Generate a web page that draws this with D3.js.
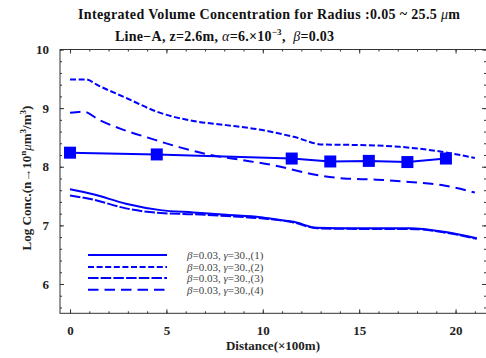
<!DOCTYPE html>
<html><head><meta charset="utf-8">
<script src="https://cdn.jsdelivr.net/npm/d3@7/dist/d3.min.js"></script>
<style>
html,body{margin:0;padding:0;background:#fff;}
svg{display:block;font-family:"Liberation Serif","Times New Roman",serif;}
</style></head>
<body><svg id="c" width="486" height="358"></svg>
<script>
// ---- data ----
const xTicks = [0, 5, 10, 15, 20];
const yTicks = [6, 7, 8, 9, 10];

const s2x = [0, 0.8, 1.5, 3, 4.5, 6.4, 8.1, 9.9, 11.6, 13.1, 15, 17.1, 19, 21];
const s2y = [9.49, 9.49, 9.38, 9.16, 8.94, 8.78, 8.71, 8.63, 8.51, 8.38, 8.37, 8.34, 8.27, 8.15];

const s4x = [0, 0.7, 1.5, 2.6, 4.2, 5.7, 7.3, 8.8, 10.5, 12.8, 14.2, 15.9, 17.6, 19.4, 21];
const s4y = [8.92, 8.94, 8.80, 8.65, 8.48, 8.33, 8.20, 8.12, 8.03, 7.86, 7.80, 7.78, 7.74, 7.68, 7.56];

const s1x = [0, 1.2, 2.9, 4.7, 6.4, 8.1, 9.9, 10.9, 11.6, 12.8, 15, 17.6, 19.4, 21.1];
const s1y = [7.615, 7.53, 7.37, 7.26, 7.22, 7.18, 7.14, 7.09, 7.06, 6.96, 6.95, 6.95, 6.89, 6.78];

const s3x = [0, 1.2, 2.9, 4.7, 6.4, 8.1, 9.9, 11.6, 12.8, 15, 17.6, 19.4, 21.1];
const s3y = [7.51, 7.44, 7.29, 7.21, 7.19, 7.16, 7.12, 7.05, 6.95, 6.94, 6.94, 6.88, 6.77];

const mx = [0, 4.5, 11.5, 13.5, 15.5, 17.5, 19.5];
const my = [8.24, 8.21, 8.14, 8.09, 8.10, 8.08, 8.14];

const legendLabels = ["(1)", "(2)", "(3)", "(4)"];

// ---- layout ----
const L = 60, T = 49.5, R = 487, B = 313.3;
const x = d3.scaleLinear().domain([-0.52, 21.63]).range([L, R]);
const y = d3.scaleLinear().domain([5.5, 10]).range([B, T]);
const blue = "#0000ff";
const svg = d3.select("#c");

svg.append("defs").append("clipPath").attr("id","clip")
  .append("rect").attr("x",L).attr("y",T).attr("width",R-L).attr("height",B-T);

// frame
svg.append("rect").attr("x",L).attr("y",T).attr("width",R-L).attr("height",B-T)
  .attr("fill","none").attr("stroke","#333").attr("stroke-width",1);

// ticks
const xMinor = d3.range(0, 22, 1);
const yMinor = d3.range(5.6, 10.0001, 0.2).map(v => +v.toFixed(1));
function drawAxis(axis, tr){
  const g = svg.append("g").attr("transform", tr).call(axis);
  g.select(".domain").remove();
  g.selectAll("line").attr("stroke","#333");
  return g;
}
drawAxis(d3.axisBottom(x).tickValues(xMinor).tickSize(-2).tickFormat(""), `translate(0,${B})`);
drawAxis(d3.axisTop(x).tickValues(xMinor).tickSize(-2).tickFormat(""), `translate(0,${T})`);
drawAxis(d3.axisLeft(y).tickValues(yMinor).tickSize(-2).tickFormat(""), `translate(${L},0)`);
drawAxis(d3.axisRight(y).tickValues(yMinor).tickSize(-2).tickFormat(""), `translate(${R-1},0)`);
drawAxis(d3.axisTop(x).tickValues(xTicks).tickSize(-4).tickFormat(""), `translate(0,${T})`);
drawAxis(d3.axisRight(y).tickValues(yTicks).tickSize(-4).tickFormat(""), `translate(${R-1},0)`);

const gx = drawAxis(d3.axisBottom(x).tickValues(xTicks).tickSize(-4).tickPadding(12).tickFormat(d3.format("d")), `translate(0,${B})`);
gx.selectAll("text").attr("font-size",13).attr("font-weight","bold").attr("fill","#222")
  .attr("font-family","Liberation Serif, serif");
const gy = drawAxis(d3.axisLeft(y).tickValues(yTicks).tickSize(-4).tickPadding(11).tickFormat(d3.format("d")), `translate(${L},0)`);
gy.selectAll("text").attr("font-size",13).attr("font-weight","bold").attr("fill","#222")
  .attr("font-family","Liberation Serif, serif");

// curves
const plot = svg.append("g").attr("clip-path","url(#clip)");
const line = d3.line().x(d => x(d[0])).y(d => y(d[1])).curve(d3.curveMonotoneX);
const lin = d3.line().x(d => x(d[0])).y(d => y(d[1]));
const zip = (a, b) => a.map((v, i) => [v, b[i]]);

const series = [
  {xs: s1x, ys: s1y, dash: null},
  {xs: s2x, ys: s2y, dash: "6,2.6"},
  {xs: s3x, ys: s3y, dash: "10.5,2.2"},
  {xs: s4x, ys: s4y, dash: "10.5,6"}
];
series.forEach(s => {
  plot.append("path").attr("d", line(zip(s.xs, s.ys)))
    .attr("fill","none").attr("stroke",blue).attr("stroke-width",2)
    .attr("stroke-dasharray", s.dash);
});
plot.append("path").attr("d", lin(zip(mx, my)))
  .attr("fill","none").attr("stroke",blue).attr("stroke-width",2);
plot.selectAll("rect.m").data(zip(mx, my)).enter().append("rect")
  .attr("x", d => x(d[0]) - 6).attr("y", d => y(d[1]) - 6)
  .attr("width",12).attr("height",12).attr("fill",blue);

// legend
const legY = [255, 267, 278, 289.7];
series.forEach((s, i) => {
  svg.append("line").attr("x1",88).attr("x2",167).attr("y1",legY[i]).attr("y2",legY[i])
    .attr("stroke",blue).attr("stroke-width",2).attr("stroke-dasharray", s.dash);
  const t = svg.append("text").attr("x",187).attr("y",legY[i]+4)
    .attr("font-size",11).attr("fill","#444");
  t.append("tspan").attr("font-style","italic").text("β");
  t.append("tspan").text("=0.03, ");
  t.append("tspan").attr("font-style","italic").text("γ");
  t.append("tspan").text("=30.," + legendLabels[i]);
});

// titles
const t1 = svg.append("text").attr("x",78).attr("y",19)
  .attr("font-size",14).attr("font-weight","bold").attr("fill","#111")
  .attr("textLength",382).attr("lengthAdjust","spacing");
t1.append("tspan").text("Integrated Volume  Concentration  for Radius :0.05 ~ 25.5 ");
t1.append("tspan").attr("font-style","italic").attr("font-weight","normal").text("μ");
t1.append("tspan").text("m");

const t2 = svg.append("text").attr("x",115).attr("y",41).style("white-space","pre")
  .attr("font-size",14).attr("font-weight","bold").attr("fill","#111")
  .attr("textLength",219).attr("lengthAdjust","spacing");
t2.append("tspan").text("Line−A, z=2.6m, ");
t2.append("tspan").attr("font-style","italic").attr("font-weight","normal").text("α");
t2.append("tspan").text("=6.×10");
t2.append("tspan").attr("font-size",9).attr("dy",-6).text("−3");
t2.append("tspan").attr("dy",6).text(",  ");
t2.append("tspan").attr("font-style","italic").attr("font-weight","normal").text("β");
t2.append("tspan").text("=0.03");

// axis labels
svg.append("text").attr("x",273).attr("y",350).attr("text-anchor","middle")
  .attr("font-size",13).attr("font-weight","bold").attr("fill","#222")
  .text("Distance(×100m)");

const yl = svg.append("text").attr("transform","translate(31,178) rotate(-90)")
  .attr("text-anchor","middle").attr("font-size",13).attr("font-weight","bold").attr("fill","#222");
yl.append("tspan").text("Log Conc.(n→10");
yl.append("tspan").attr("font-size",9).attr("dy",-5).text("n");
yl.append("tspan").attr("dy",5).attr("font-style","italic").attr("font-weight","normal").text("μ");
yl.append("tspan").text("m");
yl.append("tspan").attr("font-size",9).attr("dy",-5).text("3");
yl.append("tspan").attr("dy",5).text("/m");
yl.append("tspan").attr("font-size",9).attr("dy",-5).text("3");
yl.append("tspan").attr("dy",5).text(")");
</script>
</body></html>
